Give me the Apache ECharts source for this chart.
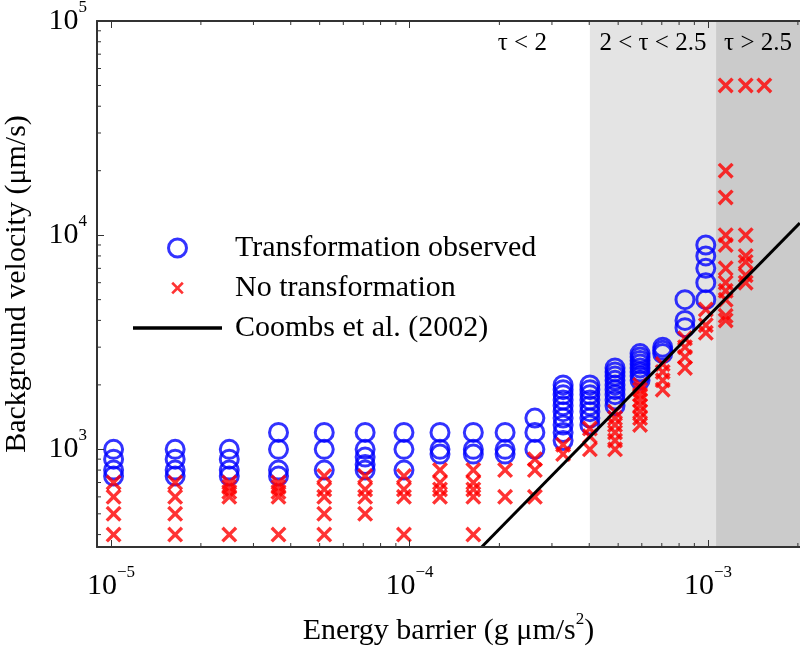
<!DOCTYPE html>
<html><head><meta charset="utf-8">
<script src="https://cdn.jsdelivr.net/npm/echarts@6/dist/echarts.min.js"></script>
<style>html,body{margin:0;padding:0;background:#fff}#c{width:800px;height:648px}</style>
</head><body><div id="c"></div>
<script>
const F = 'Liberation Serif';

// Column positions (energy barrier, g µm/s^2)
const energyBarrier = [1.02e-5, 1.64e-5, 2.49e-5, 3.64e-5, 5.18e-5, 7.1e-5, 9.58e-5, 1.265e-4,
  1.636e-4, 2.09e-4, 2.63e-4, 3.27e-4, 4.02e-4, 4.88e-4, 5.92e-4, 7.05e-4, 8.37e-4, 9.83e-4,
  1.146e-3, 1.337e-3, 1.544e-3];

// Background velocities where transformation was observed (per column)
const velocityObserved = [
  [1000, 900, 800, 750],
  [1000, 900, 800, 750],
  [1000, 900, 800, 750],
  [1200, 1000, 800, 750],
  [1200, 1000, 800],
  [1200, 1000, 920, 850, 800],
  [1200, 1000, 800],
  [1200, 1000, 950],
  [1200, 1000, 950],
  [1200, 1000, 950],
  [1400, 1200, 1000],
  [2000, 1900, 1800, 1700, 1600, 1500, 1400, 1300, 1200, 1100],
  [2000, 1900, 1800, 1700, 1600, 1500, 1400, 1300],
  [2400, 2300, 2200, 2100, 2000, 1900, 1800, 1700, 1600],
  [2800, 2700, 2600, 2500, 2400, 2300, 2200, 2100],
  [3000, 2900, 2800],
  [5000, 4000, 3700],
  [9000, 8000, 7000, 6000, 5000],
  [], [], []
];

// Background velocities with no transformation (per column)
const velocityNoTransform = [
  [700, 600, 500, 400],
  [700, 600, 500, 400],
  [700, 667, 633, 600, 400],
  [700, 667, 633, 600, 400],
  [750, 650, 600, 500, 400],
  [750, 650, 600, 500],
  [750, 650, 600, 400],
  [800, 700, 650, 600],
  [800, 700, 650, 600, 400],
  [800, 600],
  [900, 800, 600],
  [1050, 950],
  [1250, 1150, 1000],
  [1500, 1400, 1300, 1200, 1100, 1000],
  [2000, 1900, 1800, 1700, 1600, 1500, 1400, 1300],
  [2500, 2300, 2100, 1900],
  [3300, 3000, 2700, 2400],
  [4500, 3800, 3500],
  [50000, 20000, 15000, 10000, 9000, 7000, 6000, 5500, 5000, 4200, 4000],
  [50000, 10000, 8000, 7500, 6500, 6000],
  [50000]
];

// Coombs et al. (2002) line endpoints
const coombsLine = [[1.745e-4, 350], [2.03e-3, 11400]];

// Regime boundaries and labels
const tauBounds = [4.02e-4, 1.064e-3];
const tauLabels = ['τ < 2', '2 < τ < 2.5', 'τ > 2.5'];

// Axis ranges and minor ticks
const xRange = [8.975e-6, 2.033e-3];
const yRange = [350, 1e5];
const xMinorTicks = [2e-5, 3e-5, 4e-5, 5e-5, 6e-5, 7e-5, 8e-5, 9e-5,
  2e-4, 3e-4, 4e-4, 5e-4, 6e-4, 7e-4, 8e-4, 9e-4, 2e-3];
const yMinorTicks = [400, 500, 600, 700, 800, 900,
  2000, 3000, 4000, 5000, 6000, 7000, 8000, 9000,
  20000, 30000, 40000, 50000, 60000, 70000, 80000, 90000];

const seriesNames = ['Transformation observed', 'No transformation', 'Coombs et al. (2002)'];

function toPoints(groups) {
  const pts = [];
  groups.forEach((g, i) => g.forEach(v => pts.push([energyBarrier[i], v])));
  return pts;
}

function powLabel(v) {
  const e = Math.log10(v);
  const r = Math.round(e);
  if (Math.abs(e - r) > 1e-6) return '';
  return '{b|10}{s|' + String(r).replace('-', '\u2212') + '}';
}

const labelRich = {
  b: { fontFamily: F, fontSize: 30, color: '#000', lineHeight: 44 },
  s: { fontFamily: F, fontSize: 17, color: '#000', lineHeight: 17, verticalAlign: 'top' }
};
const axisColor = '#333';
const crossShape = 'M0,15L15,0L50,35L85,0L100,15L65,50L100,85L85,100L50,65L15,100L0,85L35,50Z';
const crossPath = 'path://' + crossShape;
// same cross for the legend, with two invisible specks widening its box so it draws smaller
const crossLegendPath = 'path://M-22,-22L-21.99,-22L-22,-21.99Z' + crossShape + 'M122,122L121.99,122L122,121.99Z';
const lineLegendPath = 'path://M0,0L100,0L100,4L0,4Z';

const chart = echarts.init(document.getElementById('c'));
chart.setOption({
  animation: false,
  backgroundColor: '#fff',
  grid: { left: 97, right: 0, top: 21, bottom: 101, containLabel: false, outerBoundsMode: 'none' },
  legend: {
    orient: 'vertical', left: 128, top: 228,
    itemWidth: 89, itemHeight: 18, itemGap: 10,
    selectedMode: false,
    textStyle: { fontFamily: F, fontSize: 30, color: '#000', lineHeight: 18, padding: [0, 0, 0, 8] },
    data: [
      { name: seriesNames[0], icon: 'circle',
        itemStyle: { color: 'rgba(0,0,255,0)', borderColor: '#0000ff', borderWidth: 3 } },
      { name: seriesNames[1], icon: crossLegendPath, itemStyle: { color: '#ff0000', borderWidth: 0 } },
      { name: seriesNames[2], icon: lineLegendPath, itemStyle: { color: '#000', borderWidth: 0 } }
    ]
  },
  xAxis: [{
    type: 'log', min: xRange[0], max: xRange[1], position: 'bottom', z: 6,
    name: '{t|Energy barrier (g μm/s}{s|2}{t|)}',
    nameLocation: 'middle', nameGap: 64, nameMoveOverlap: false,
    nameTextStyle: {
      rich: {
        t: { fontFamily: F, fontSize: 30, color: '#000', lineHeight: 40 },
        s: { fontFamily: F, fontSize: 17, color: '#000', lineHeight: 17, verticalAlign: 'top' }
      }
    },
    axisLine: { show: true, lineStyle: { color: axisColor, width: 2 } },
    axisTick: { show: true, inside: true, length: 7, lineStyle: { color: axisColor, width: 1 } },
    axisLabel: { formatter: powLabel, margin: 17, rich: labelRich },
    splitLine: { show: false }
  }, {
    type: 'log', min: xRange[0], max: xRange[1], position: 'top', z: 6,
    axisLine: { show: true, lineStyle: { color: axisColor, width: 2 } },
    axisTick: { show: true, inside: true, length: 7, lineStyle: { color: axisColor, width: 1 } },
    axisLabel: { show: false },
    splitLine: { show: false }
  }],
  yAxis: {
    type: 'log', min: yRange[0], max: yRange[1], z: 6,
    name: 'Background velocity (μm/s)',
    nameLocation: 'middle', nameGap: 65, nameMoveOverlap: false,
    nameTextStyle: { fontFamily: F, fontSize: 30, color: '#000' },
    axisLine: { show: true, lineStyle: { color: axisColor, width: 2 } },
    axisTick: { show: true, inside: true, length: 7, lineStyle: { color: axisColor, width: 1 } },
    axisLabel: { formatter: powLabel, margin: 10, rich: labelRich },
    splitLine: { show: false }
  },
  series: [
    {
      name: seriesNames[0], type: 'scatter', z: 2,
      symbol: 'circle', symbolSize: 18,
      itemStyle: { color: 'rgba(0,0,255,0)', borderColor: '#0000ff', borderWidth: 3 },
      emphasis: { disabled: true },
      data: toPoints(velocityObserved)
    },
    {
      name: seriesNames[1], type: 'scatter', z: 3,
      symbol: crossPath, symbolSize: 16,
      itemStyle: { color: '#ff0000' },
      emphasis: { disabled: true },
      data: toPoints(velocityNoTransform)
    },
    {
      name: seriesNames[2], type: 'line', z: 4,
      symbol: 'none', showSymbol: false, clip: true,
      lineStyle: { color: '#000', width: 3 },
      itemStyle: { color: '#000' },
      emphasis: { disabled: true },
      data: coombsLine,
      markArea: {
        silent: true,
        label: { show: true, position: 'insideTop', distance: 10, fontFamily: F, fontSize: 25, color: '#000' },
        data: [
          [{ name: tauLabels[0], xAxis: xRange[0], itemStyle: { color: 'rgba(255,255,255,0)' },
             label: { position: 'insideTopRight', offset: [-33, 0] } }, { xAxis: tauBounds[0] }],
          [{ name: tauLabels[1], xAxis: tauBounds[0], itemStyle: { color: '#e4e4e4' } }, { xAxis: tauBounds[1] }],
          [{ name: tauLabels[2], xAxis: tauBounds[1], itemStyle: { color: '#cbcbcb' } }, { xAxis: xRange[1] }]
        ]
      }
    },
    {
      type: 'custom', name: 'xMinor', z: 6, silent: true, clip: false,
      data: xMinorTicks.map(v => [v, 1000]),
      renderItem: function (params, api) {
        const cs = params.coordSys;
        const x = api.coord([api.value(0), api.value(1)])[0];
        const b = cs.y + cs.height, t = cs.y;
        return { type: 'group', children: [
          { type: 'line', shape: { x1: x, y1: b, x2: x, y2: b - 4 }, style: { stroke: axisColor, lineWidth: 1 } },
          { type: 'line', shape: { x1: x, y1: t, x2: x, y2: t + 4 }, style: { stroke: axisColor, lineWidth: 1 } }
        ] };
      }
    },
    {
      type: 'custom', name: 'yMinor', z: 6, silent: true, clip: false,
      data: yMinorTicks.map(v => [1e-4, v]),
      renderItem: function (params, api) {
        const cs = params.coordSys;
        const y = api.coord([api.value(0), api.value(1)])[1];
        const l = cs.x;
        return { type: 'line', shape: { x1: l, y1: y, x2: l + 4, y2: y }, style: { stroke: axisColor, lineWidth: 1 } };
      }
    }
  ]
});
</script>
</body></html>
